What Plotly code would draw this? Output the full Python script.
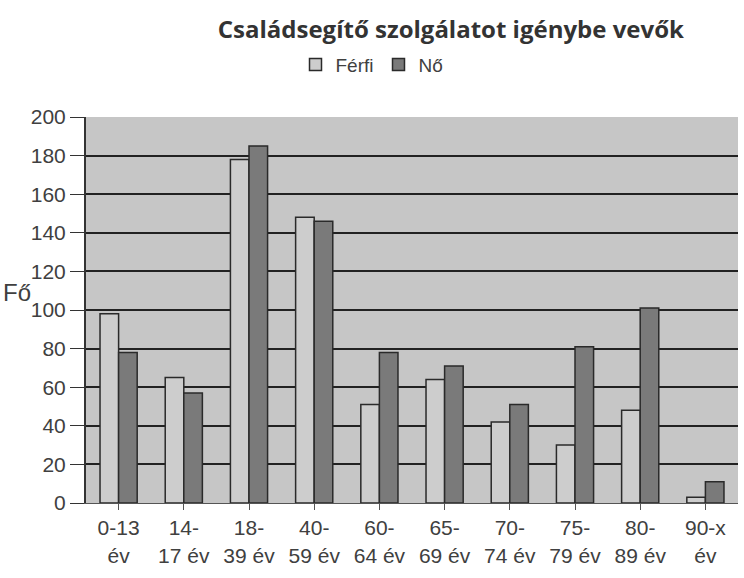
import plotly.graph_objects as go

categories = ["0-13<br>év", "14-<br>17 év", "18-<br>39 év", "40-<br>59 év", "60-<br>64 év",
              "65-<br>69 év", "70-<br>74 év", "75-<br>79 év", "80-<br>89 év", "90-x<br>év"]
ferfi = [98, 65, 178, 148, 51, 64, 42, 30, 48, 3]
no = [78, 57, 185, 146, 78, 71, 51, 81, 101, 11]
y_ticks = [0, 20, 40, 60, 80, 100, 120, 140, 160, 180, 200]

fig = go.Figure()
fig.add_trace(go.Bar(name="Férfi", x=categories, y=ferfi,
                     marker=dict(color="#cdcdcd", line=dict(color="#2a2a2a", width=1.5))))
fig.add_trace(go.Bar(name="Nő", x=categories, y=no,
                     marker=dict(color="#7a7a7a", line=dict(color="#2a2a2a", width=1.5))))

fig.update_layout(
    width=744, height=578,
    margin=dict(l=86, r=6, t=117, b=75, autoexpand=False),
    paper_bgcolor="white",
    plot_bgcolor="#c6c6c6",
    barmode="group",
    bargap=0.43,
    bargroupgap=0.0,
    font=dict(family="Liberation Sans, Arial", color="#404040", size=21),
    title=dict(text="<b>Családsegítő szolgálatot igénybe vevők</b>",
               x=0.606, xanchor="center", xref="container",
               y=0.948, yanchor="middle", yref="container",
               font=dict(family="Open Sans, Lato", size=24, color="#333333")),
    legend=dict(orientation="h", x=0.50, xanchor="center", xref="container",
                y=0.888, yanchor="middle", yref="container",
                font=dict(size=19, color="#404040"), itemwidth=30,
                bgcolor="rgba(0,0,0,0)", tracegroupgap=0),
    xaxis=dict(automargin=False, showline=True, linecolor="#555555", ticks="outside",
               ticklen=6, tickcolor="#555555", tickangle=0,
               tickfont=dict(size=21, color="#404040")),
    yaxis=dict(automargin=False, range=[0, 200], tickvals=y_ticks, showline=True,
               linecolor="#333333", linewidth=2, ticks="outside", ticklen=14,
               tickcolor="#333333", showgrid=True, gridcolor="#222222", gridwidth=2,
               tickfont=dict(size=21, color="#404040"), zeroline=False),
    showlegend=True,
)
fig.add_annotation(text="Fő", xref="paper", yref="paper", x=-0.131, y=0.545,
                   xanchor="left", yanchor="middle", showarrow=False,
                   font=dict(size=24, color="#404040"))

fig.write_html("out.html", config={"displayModeBar": False},
               post_script="document.body.style.margin='0';")
